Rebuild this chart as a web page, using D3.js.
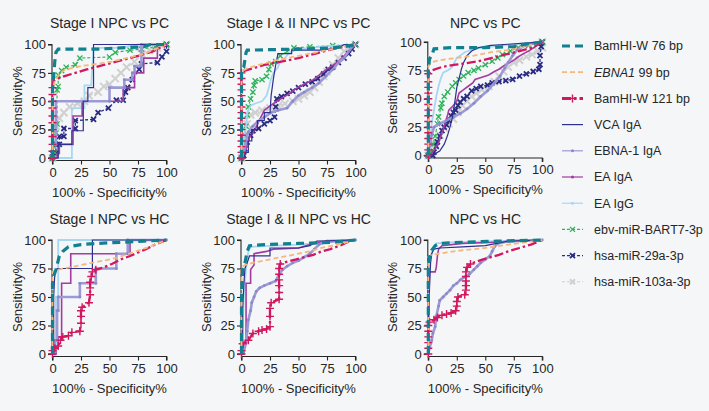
<!DOCTYPE html>
<html>
<head>
<meta charset="utf-8">
<script src="https://cdn.jsdelivr.net/npm/d3@7"></script>
<style>
  html, body { margin: 0; padding: 0; background: #f5f6f8; }
  svg { display: block; font-family: "Liberation Sans", Arial, sans-serif; }
</style>
</head>
<body>
<svg id="chart" width="709" height="411"></svg>
<script>
// Legend order; every panel array below follows it.
const seriesNames = ["BamHI-W 76 bp", "EBNA1 99 bp", "BamHI-W 121 bp", "VCA IgA", "EBNA-1 IgA",
  "EA IgA", "EA IgG", "ebv-miR-BART7-3p", "hsa-miR-29a-3p", "hsa-miR-103a-3p"];
const panelTitles = ["Stage I NPC vs PC", "Stage I & II NPC vs PC", "NPC vs PC",
  "Stage I NPC vs HC", "Stage I & II NPC vs HC", "NPC vs HC"];
const axisTicks = [0, 25, 50, 75, 100];

// ROC points [100% - specificity, sensitivity].
const rocStageIvsPC = [
  [[0,0],[0,60],[1,72],[2,85],[3,93],[5,96],[40,96],[60,97],[80,98],[86,100],[100,100]],
  [[0,0],[0,60],[2,68],[6,74],[11,78],[25,81],[40,83],[52,85],[65,88],[81,92],[100,100]],
  [[0,0],[0,6],[0,12],[0,19],[0,25],[0,31],[0,37],[0,44],[0,50],[0,56],[0,62],[1,68],[5,70],[10,72],[20,75],[30,78],[45,82],[60,86],[75,90],[88,94],[100,100]],
  [[0,0],[5,0],[5,12],[17,12],[17,24],[27,24],[27,50],[31,50],[31,62],[36,62],[36,100],[100,100]],
  [[0,0],[0,12],[3,12],[3,50],[50,50],[50,62],[63,62],[63,69],[70,69],[70,75],[72,75],[72,81],[78,81],[78,100],[100,100]],
  [[0,0],[4,0],[4,4],[6,4],[6,12],[18,12],[18,37],[26,37],[26,50],[62,50],[62,62],[72,62],[72,75],[80,75],[80,88],[92,88],[92,100],[100,100]],
  [[0,0],[17,0],[17,44],[28,44],[28,64],[34,64],[36,97],[60,97],[75,100],[100,100]],
  [[0,0],[2,5],[3,22],[4,30],[4,60],[5,63],[5,73],[8,77],[12,80],[20,82],[24,88],[50,89],[55,93],[68,95],[78,96],[90,98],[100,100]],
  [[0,0],[0,4],[3,4],[3,12],[6,12],[6,19],[10,19],[10,26],[20,26],[20,33],[36,34],[40,40],[49,44],[56,51],[62,51],[64,58],[66,62],[70,69],[76,78],[78,83],[92,84],[96,89],[100,94],[100,100]],
  [[0,0],[2,10],[3,28],[6,35],[10,40],[15,45],[22,48],[28,50],[32,55],[40,58],[45,63],[50,65],[55,70],[60,75],[65,80],[72,85],[78,92],[85,95],[92,97],[100,100]]
];
const rocStageIIIvsPC = [
  [[0,0],[0,78],[2,80],[4,93],[5,95],[50,96],[80,97],[95,99],[100,100]],
  [[0,0],[0,70],[1,77],[5,79],[15,82],[30,86],[50,90],[70,94],[85,97],[100,100]],
  [[0,0],[0,5],[0,10],[0,15],[0,20],[0,25],[0,30],[0,35],[0,40],[0,45],[0,50],[0,55],[0,60],[0,65],[0,70],[0,75],[3,77],[10,79],[20,82],[35,85],[50,88],[65,92],[80,96],[100,100]],
  [[0,0],[3,0],[3,5],[6,5],[6,15],[9,15],[9,25],[14,25],[14,33],[20,33],[20,40],[25,40],[26,55],[28,70],[30,82],[32,92],[44,92],[44,95],[70,95],[85,97],[90,100],[100,100]],
  [[0,0],[2,5],[4,15],[6,23],[10,28],[14,32],[20,36],[26,40],[32,42],[40,44],[45,50],[50,55],[55,58],[62,62],[68,66],[74,72],[80,78],[85,84],[90,88],[94,94],[97,98],[100,100]],
  [[0,0],[3,5],[5,12],[7,18],[12,25],[15,32],[20,42],[25,46],[31,50],[36,53],[41,56],[46,60],[51,63],[57,66],[63,69],[68,73],[73,77],[79,81],[85,85],[90,90],[97,97],[100,100]],
  [[0,0],[1,5],[2,18],[4,28],[5,40],[8,46],[12,48],[18,50],[22,55],[24,62],[26,70],[28,75],[32,80],[34,85],[38,88],[42,93],[50,96],[70,98],[100,100]],
  [[0,0],[1,5],[2,12],[3,20],[4,28],[5,38],[6,45],[8,52],[10,58],[11,64],[12,68],[18,69],[22,72],[24,78],[26,83],[30,85],[34,90],[40,94],[46,97],[60,98],[80,99],[100,100]],
  [[0,0],[2,2],[3,8],[5,14],[8,20],[10,24],[15,26],[20,30],[25,33],[29,36],[30,45],[31,52],[35,54],[40,57],[45,59],[50,62],[56,65],[62,67],[67,70],[72,74],[76,78],[80,80],[85,84],[90,88],[94,92],[97,96],[100,100]],
  [[0,0],[1,8],[3,20],[5,30],[8,38],[12,40],[18,42],[25,44],[32,46],[38,48],[45,50],[50,52],[55,55],[60,58],[64,62],[68,67],[72,72],[75,76],[80,82],[85,88],[90,94],[95,98],[100,100]]
];
const rocAllvsPC = [
  [[0,0],[0,75],[1,85],[3,88],[5,94],[20,95],[50,95],[75,96],[85,98],[100,100]],
  [[0,0],[0,78],[2,82],[10,84],[25,86],[40,88],[55,91],[70,93],[85,96],[100,100]],
  [[0,0],[0,5],[0,10],[0,15],[0,20],[0,25],[0,30],[0,35],[0,40],[0,45],[0,50],[0,55],[0,60],[0,65],[0,72],[3,75],[12,78],[24,80],[44,83],[56,86],[68,89],[80,92],[91,95],[100,100]],
  [[0,0],[5,1],[10,4],[14,10],[17,18],[19,25],[21,33],[23,45],[25,60],[27,68],[29,76],[31,82],[34,88],[38,92],[44,95],[55,97],[70,98],[85,99],[100,100]],
  [[0,0],[1,8],[3,18],[5,25],[10,28],[16,31],[22,34],[28,37],[34,41],[40,46],[46,52],[52,57],[58,64],[63,70],[67,77],[70,82],[74,88],[78,93],[85,97],[92,99],[100,100]],
  [[0,0],[3,2],[6,6],[9,11],[12,20],[15,29],[17,36],[18,40],[22,44],[25,48],[27,55],[31,58],[35,61],[39,64],[41,67],[47,69],[53,71],[58,74],[62,76],[66,79],[70,81],[75,84],[79,87],[84,90],[88,92],[94,96],[100,100]],
  [[0,0],[1,8],[2,18],[3,28],[5,40],[7,52],[9,61],[11,68],[13,73],[17,75],[21,78],[23,82],[25,86],[28,88],[32,91],[40,94],[55,96],[75,98],[100,100]],
  [[0,0],[2,3],[4,10],[6,17],[8,28],[9,34],[11,42],[12,46],[14,52],[17,56],[21,61],[24,64],[27,67],[31,70],[35,73],[40,75],[44,77],[50,80],[56,83],[61,86],[65,89],[72,92],[79,95],[88,97],[100,100]],
  [[0,0],[4,0],[5,3],[7,8],[8,12],[10,17],[12,22],[14,25],[16,27],[18,31],[20,35],[22,38],[24,40],[26,44],[28,47],[31,50],[34,52],[38,57],[42,59],[46,61],[52,62],[56,64],[62,65],[68,66],[74,67],[80,70],[86,72],[92,74],[97,76],[98,80],[98,88],[99,96],[100,100]],
  [[0,0],[3,3],[6,10],[10,18],[14,24],[18,28],[22,32],[26,38],[30,44],[34,48],[38,52],[42,55],[47,58],[53,61],[58,65],[62,70],[66,74],[70,78],[75,82],[80,84],[86,87],[91,89],[96,92],[100,95],[100,100]]
];
const rocStageIvsHC = [
  [[0,0],[0,62],[1,68],[3,74],[5,82],[6,86],[9,90],[14,94],[25,96],[40,97],[60,98],[80,99],[100,100]],
  [[0,0],[0,72],[5,74],[15,76],[25,78],[40,81],[55,84],[70,89],[85,94],[100,100]],
  [[0,0],[0,3],[2,5],[5,7],[7,12],[9,15],[14,16],[17,19],[24,20],[25,27],[25,33],[25,38],[26,41],[32,45],[33,52],[33,58],[33,63],[34,68],[35,72],[38,74],[45,76],[52,79],[60,83],[68,86],[75,89],[82,92],[90,96],[100,100]],
  [[0,0],[1,0],[1,50],[2,70],[4,75],[35,75],[35,100],[100,100]],
  [[0,0],[2,0],[2,12],[4,12],[4,38],[5,38],[5,50],[24,50],[24,62],[38,62],[38,75],[56,75],[56,88],[66,88],[66,100],[100,100]],
  [[0,0],[3,0],[3,5],[5,5],[5,15],[8,15],[8,62],[16,62],[16,88],[68,88],[68,100],[100,100]],
  [[0,0],[3,0],[3,50],[5,50],[5,100],[100,100]]
];
const rocStageIIIvsHC = [
  [[0,0],[0,50],[1,74],[3,80],[5,90],[7,95],[20,96],[50,97],[80,98],[100,100]],
  [[0,0],[0,76],[3,78],[10,80],[25,83],[40,86],[55,89],[70,93],[85,96],[100,100]],
  [[0,0],[0,3],[1,9],[6,12],[10,18],[15,20],[18,21],[22,22],[25,24],[25,33],[25,40],[26,45],[33,48],[33,54],[33,60],[33,65],[33,70],[33,75],[34,79],[40,81],[48,83],[55,85],[63,87],[70,90],[78,92],[86,95],[95,99],[100,100]],
  [[0,0],[1,0],[1,40],[2,60],[3,75],[5,80],[7,86],[25,86],[25,93],[50,93],[60,95],[66,99],[100,100]],
  [[0,0],[2,2],[4,10],[5,20],[6,30],[8,38],[9,45],[11,50],[13,55],[16,58],[20,60],[25,62],[30,64],[33,70],[36,74],[40,77],[45,80],[50,82],[55,85],[60,88],[64,92],[68,96],[75,99],[100,100]],
  [[0,0],[2,0],[2,10],[4,10],[4,62],[8,62],[8,74],[11,78],[11,88],[22,90],[28,92],[50,93],[60,96],[70,98],[100,100]],
  [[0,0],[1,20],[2,50],[4,75],[6,90],[8,94],[30,95],[50,96],[75,98],[100,100]]
];
const rocAllvsHC = [
  [[0,0],[0,40],[0,77],[1,85],[3,91],[6,95],[10,97],[30,98],[60,99],[100,100]],
  [[0,0],[0,85],[3,87],[15,89],[30,91],[50,93],[70,96],[85,98],[100,100]],
  [[0,0],[0,5],[0,10],[0,15],[0,20],[0,25],[1,28],[5,30],[8,32],[12,34],[16,35],[20,36],[24,38],[25,42],[25,46],[26,50],[32,52],[33,56],[33,60],[33,64],[33,68],[33,72],[34,76],[37,79],[42,81],[48,83],[55,85],[62,87],[70,90],[80,93],[90,96],[100,100]],
  [[0,0],[0,20],[1,60],[2,80],[3,88],[5,92],[10,93],[30,94],[50,95],[60,97],[70,99],[100,100]],
  [[0,0],[1,5],[3,12],[4,18],[6,24],[7,33],[9,42],[10,47],[13,50],[16,53],[19,56],[22,60],[25,62],[28,65],[31,67],[36,70],[40,74],[43,77],[46,80],[50,83],[54,86],[56,90],[58,94],[61,97],[70,99],[100,100]],
  [[0,0],[0,30],[1,60],[1,72],[6,72],[7,76],[8,86],[9,92],[12,95],[30,97],[60,98],[100,100]],
  [[0,0],[0,30],[1,70],[2,85],[4,93],[7,97],[20,98],[60,99],[100,100]]
];
const panelData = [rocStageIvsPC, rocStageIIIvsPC, rocAllvsPC, rocStageIvsHC, rocStageIIIvsHC, rocAllvsHC];
// How many leading BamHI-W 121 bp points carry a "+" symbol in each panel.
const bamhi121Marked = [11, 16, 15, 20, 19, 24];

// Look of each series (same order as seriesNames).
const styles = [
  { color: "#13808f", width: 3.2, dash: "8,5", lw: 3 },
  { color: "#f6b67c", width: 1.8, dash: "5,3", lw: 1.8 },
  { color: "#d2175f", width: 2.3, dash: "9,3,2.5,3", marker: "plus", ms: 4, mw: 1.4, lw: 3 },
  { color: "#2e3090", width: 1.2, lw: 1.2 },
  { color: "#9c9ad6", width: 2.6, marker: "dot", mcolor: "#8a88c8", lw: 1.2 },
  { color: "#a33ca0", width: 1.6, lw: 1.2, legendDot: true },
  { color: "#a6d7f3", width: 1.8, lw: 1.2, legendDot: true },
  { color: "#2db35b", width: 1.1, dash: "3,2", marker: "cross", ms: 2.6, mw: 1.3, lw: 1.1 },
  { color: "#2a2c84", width: 1.3, dash: "3,2", marker: "cross", ms: 2.5, mw: 1.8, lw: 1.1 },
  { color: "#d0d0d0", width: 1.6, dash: "3,2", marker: "cross", ms: 3.6, mw: 2, lw: 1.1 }
];

// Plot boxes: pixel x at 0/100, pixel y at 0/100, x axis line, title baseline
const boxes = [
  { x0: 52.5, x1: 166.5, y0: 158, y1: 44.5, ax: 160.5, title: 28 },
  { x0: 241.5, x1: 355.5, y0: 158, y1: 44.5, ax: 160.5, title: 28 },
  { x0: 428.3, x1: 542.3, y0: 155.5, y1: 42, ax: 158, title: 28 },
  { x0: 52.5, x1: 166.5, y0: 354, y1: 240, ax: 356.5, title: 224 },
  { x0: 241.5, x1: 355.5, y0: 354, y1: 240, ax: 356.5, title: 224 },
  { x0: 428.3, x1: 542.3, y0: 354, y1: 240, ax: 356.5, title: 224 }
];

const svg = d3.select("#chart");
const ink = "#262626";

function markerPath(kind, s) {
  if (kind === "plus") return `M${-s},0L${s},0M0,${-s}L0,${s}`;
  return `M${-s},${-s}L${s},${s}M${-s},${s}L${s},${-s}`;
}

panelData.forEach((series, p) => {
  const b = boxes[p];
  const x = d3.scaleLinear().domain([0, 100]).range([b.x0, b.x1]);
  const y = d3.scaleLinear().domain([0, 100]).range([b.y0, b.y1]);
  const g = svg.append("g");

  g.append("text")
    .attr("x", (b.x0 + b.x1) / 2).attr("y", b.title)
    .attr("text-anchor", "middle").attr("font-size", 14).attr("fill", ink)
    .text(panelTitles[p]);

  // y axis
  const ya = g.append("g").attr("transform", `translate(${b.x0 - 0.5},0)`)
    .call(d3.axisLeft(y).tickValues(axisTicks).tickSize(4).tickPadding(2));
  // x axis sits a little below the zero line
  const xa = g.append("g").attr("transform", `translate(0,${b.ax})`)
    .call(d3.axisBottom(x).tickValues(axisTicks).tickSize(4).tickPadding(3));
  [ya, xa].forEach(a => {
    a.select(".domain").attr("stroke", ink).attr("stroke-width", 1.1);
    a.selectAll(".tick line").attr("stroke", ink).attr("stroke-width", 1.1);
    a.selectAll(".tick text").attr("font-size", 13).attr("fill", ink)
      .attr("font-family", "Liberation Sans, Arial, sans-serif");
  });
  ya.select(".domain").attr("d", `M-4,${b.y1}H0V${b.y0}H-4`);
  xa.select(".domain").attr("d", `M${b.x0},4V0H${b.x1}V4`);

  g.append("text")
    .attr("transform", `translate(${b.x0 - 31},${(b.y0 + b.y1) / 2}) rotate(-90)`)
    .attr("text-anchor", "middle").attr("font-size", 13).attr("fill", ink)
    .text("Sensitivity%");
  g.append("text")
    .attr("x", (b.x0 + b.x1) / 2).attr("y", b.ax + 36)
    .attr("text-anchor", "middle").attr("font-size", 13).attr("fill", ink)
    .text("100% - Specificity%");

  const line = d3.line().x(d => x(d[0])).y(d => y(d[1]));

  // draw last series first so the cfDNA curves sit on top
  for (let i = series.length - 1; i >= 0; i--) {
    const st = styles[i];
    g.append("path")
      .attr("d", line(series[i]))
      .attr("fill", "none")
      .attr("stroke", st.color)
      .attr("stroke-width", st.width)
      .attr("stroke-dasharray", st.dash || null)
      .attr("stroke-linejoin", "miter");
    const pts = i === 2 ? series[i].slice(0, bamhi121Marked[p]) : series[i];
    if (st.marker === "dot") {
      g.append("g").selectAll("circle").data(pts).join("circle")
        .attr("cx", d => x(d[0])).attr("cy", d => y(d[1])).attr("r", 1.4)
        .attr("fill", st.mcolor);
    } else if (st.marker) {
      g.append("g").selectAll("path").data(pts).join("path")
        .attr("transform", d => `translate(${x(d[0])},${y(d[1])})`)
        .attr("d", markerPath(st.marker, st.ms))
        .attr("stroke", st.color).attr("stroke-width", st.mw).attr("fill", "none");
    }
  }
});

// Legend
const legend = svg.append("g");
seriesNames.forEach((name, i) => {
  const st = styles[i];
  const cy = 46 + i * 26.2;
  legend.append("line")
    .attr("x1", 562).attr("x2", 583).attr("y1", cy).attr("y2", cy)
    .attr("stroke", st.color).attr("stroke-width", st.lw)
    .attr("stroke-dasharray", st.dash || null);
  if (st.marker === "dot" || st.legendDot) {
    legend.append("circle").attr("cx", 572.5).attr("cy", cy).attr("r", 1.5)
      .attr("fill", st.mcolor || st.color);
  } else if (st.marker) {
    legend.append("path")
      .attr("transform", `translate(572.5,${cy})`)
      .attr("d", markerPath(st.marker, st.marker === "plus" ? 4 : 2.5))
      .attr("stroke", st.color).attr("stroke-width", st.mw).attr("fill", "none");
  }
  const t = legend.append("text")
    .attr("x", 594).attr("y", cy).attr("dy", "0.35em")
    .attr("font-size", 12.5).attr("fill", ink);
  if (name.startsWith("EBNA1 ")) {
    t.append("tspan").attr("font-style", "italic").text("EBNA1");
    t.append("tspan").text(name.slice(5));
  } else {
    t.text(name);
  }
});
</script>
</body>
</html>
